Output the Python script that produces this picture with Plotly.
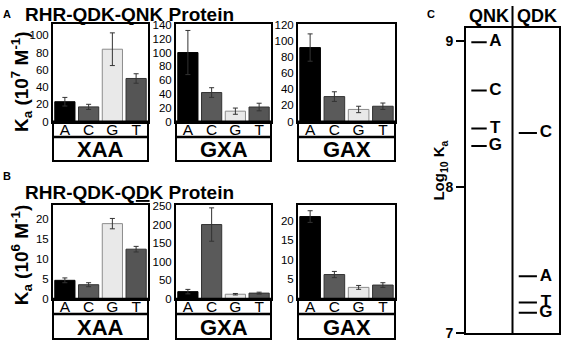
import plotly.graph_objects as go

W, H = 562, 350
FONT = "Liberation Sans, Arial, Helvetica, sans-serif"

# ---------------- data ----------------
bases = ["A", "C", "G", "T"]
site_labels = ["XAA", "GXA", "GAX"]

# Panel A: RHR-QDK-QNK protein, Ka (10^7 M^-1)
qnk_xaa = [23, 17, 84, 50]
qnk_xaa_err = [5, 3, 19, 5.5]
qnk_gxa = [100, 42, 15, 21]
qnk_gxa_err = [32, 7, 4.5, 5.5]
qnk_gax = [92, 31, 15, 19]
qnk_gax_err = [17, 6, 4, 4]

# Panel B: RHR-QDK-QDK protein, Ka (10^6 M^-1)
qdk_xaa = [4.6, 3.5, 18.8, 12.4]
qdk_xaa_err = [0.6, 0.5, 1.3, 0.7]
qdk_gxa = [19, 200, 12, 15]
qdk_gxa_err = [6, 45, 2, 2.5]
qdk_gax = [21.1, 6.2, 2.9, 3.5]
qdk_gax_err = [1.5, 0.8, 0.5, 0.6]

ticks_a = [[0, 20, 40, 60, 80, 100],
           [0, 20, 40, 60, 80, 100, 120, 140],
           [0, 20, 40, 60, 80, 100, 120]]
ticks_b = [[0, 5, 10, 15, 20],
           [0, 50, 100, 150, 200, 250],
           [0, 5, 10, 15, 20]]
ymax_a = [113, 141, 121]
ymax_b = [23.4, 252, 24]

# Panel C: log10 Ka
c_columns = ["QNK", "QDK"]
qnk_log_bases = ["A", "C", "T", "G"]
qnk_log_ka = [8.99, 8.66, 8.40, 8.28]
qdk_log_bases = ["C", "A", "T", "G"]
qdk_log_ka = [8.37, 7.39, 7.21, 7.14]
log_ticks = [7, 8, 9]

# ---------------- styles / geometry ----------------
bar_fill = ["#000000", "#5a5a5a", "#e9e9e9", "#555555"]
bar_edge = ["#000000", "#333333", "#8c8c8c", "#333333"]

cols_px = [(53, 148), (176, 271), (298, 395)]
rows_px = [dict(top=20, axis=121, row=137, bottom=162),
           dict(top=208, axis=305, row=321, bottom=347)]


def px(x):
    return x / W


def py(y):
    return 1 - y / H


fig = go.Figure()
layout = dict(width=W, height=H, margin=dict(l=0, r=0, t=0, b=0),
              paper_bgcolor="white", plot_bgcolor="white", showlegend=False,
              bargap=0.15, font=dict(family=FONT, color="black"))
shapes = []
annotations = []

panel_data = [
    [(qnk_xaa, qnk_xaa_err), (qnk_gxa, qnk_gxa_err), (qnk_gax, qnk_gax_err)],
    [(qdk_xaa, qdk_xaa_err), (qdk_gxa, qdk_gxa_err), (qdk_gax, qdk_gax_err)],
]
panel_ticks = [ticks_a, ticks_b]
panel_ymax = [ymax_a, ymax_b]

idx = 0
for r, row in enumerate(rows_px):
    for c, (x0, x1) in enumerate(cols_px):
        idx += 1
        vals, errs = panel_data[r][c]
        fig.add_trace(go.Bar(
            x=bases, y=vals, xaxis=f"x{idx}", yaxis=f"y{idx}",
            marker=dict(color=bar_fill, line=dict(color=bar_edge, width=1)),
            error_y=dict(type="data", array=errs, color="#333333",
                         thickness=1, width=2.5),
            hoverinfo="skip"))
        layout[f"xaxis{idx}"] = dict(
            domain=[px(x0), px(x1)], anchor=f"y{idx}", type="category",
            range=[-0.5, 3.5], showline=True, mirror=True, linecolor="black",
            linewidth=2, ticks="", showgrid=False, zeroline=False,
            ticklabelstandoff=-7,
            tickfont=dict(size=15.5, family=FONT, color="black"))
        layout[f"yaxis{idx}"] = dict(
            domain=[py(row["axis"]), py(row["top"])], anchor=f"x{idx}",
            range=[0, panel_ymax[r][c]], tickvals=panel_ticks[r][c],
            showline=True, mirror=True, linecolor="black", linewidth=2,
            ticks="", showgrid=False, zeroline=False,
            tickfont=dict(size=11.5, family=FONT, color="black"))
        # letter row + site label box
        shapes.append(dict(type="rect", xref="paper", yref="paper",
                           x0=px(x0), x1=px(x1), y0=py(row["bottom"]),
                           y1=py(row["axis"]),
                           line=dict(color="black", width=2)))
        shapes.append(dict(type="line", xref="paper", yref="paper",
                           x0=px(x0), x1=px(x1), y0=py(row["row"]),
                           y1=py(row["row"]),
                           line=dict(color="black", width=2.5)))
        annotations.append(dict(
            text=f"<b>{site_labels[c]}</b>", xref="paper", yref="paper",
            x=px((x0 + x1) / 2), y=py((row["row"] + row["bottom"]) / 2 + 1),
            xanchor="center", yanchor="middle", showarrow=False,
            font=dict(size=22, family=FONT, color="black")))

# panel titles and letters
extra = [
    dict(text="<b>A</b>", x=px(7), y=py(9), font=dict(size=11)),
    dict(text="<b>B</b>", x=px(7), y=py(178), font=dict(size=11)),
    dict(text="<b>C</b>", x=px(431), y=py(9), font=dict(size=11)),
    dict(text="<b>RHR-QDK-Q<u>N</u>K Protein</b>", x=px(129), y=py(10),
         font=dict(size=19)),
    dict(text="<b>RHR-QDK-Q<u>D</u>K Protein</b>", x=px(129), y=py(195),
         font=dict(size=19)),
    dict(text="<b>K<sub>a</sub> (10<sup>7</sup> M<sup>-1</sup>)</b>",
         x=px(21), y=py(80), textangle=-90, font=dict(size=19)),
    dict(text="<b>K<sub>a</sub> (10<sup>6</sup> M<sup>-1</sup>)</b>",
         x=px(21), y=py(260), textangle=-90, font=dict(size=19)),
    dict(text=f"<b>{c_columns[0]}</b>", x=px(489), y=py(11),
         font=dict(size=18)),
    dict(text=f"<b>{c_columns[1]}</b>", x=px(537), y=py(11),
         font=dict(size=18)),
    dict(text="<b>Log<sub>10</sub> K<sub>a</sub></b>", x=px(440), y=py(172),
         textangle=-90, font=dict(size=15)),
]
for a in extra:
    a.update(xref="paper", yref="paper", showarrow=False,
             xanchor="center", yanchor="middle")
    a["font"].update(family=FONT, color="black")
annotations += extra

# ---------------- panel C ----------------
cx0, cx1, ctop, cbot = 466, 559, 24, 341
layout["xaxis7"] = dict(domain=[px(cx0), px(cx1)], anchor="y7",
                        range=[0, 2], showline=True, mirror=True,
                        linecolor="black", linewidth=2, showticklabels=False,
                        ticks="", showgrid=False, zeroline=False)
layout["yaxis7"] = dict(domain=[py(cbot), py(ctop)], anchor="x7",
                        range=[7, 9.086], tickvals=log_ticks,
                        showline=True, mirror=True, linecolor="black",
                        linewidth=2, ticks="outside", ticklen=8, tickwidth=1.5,
                        tickcolor="black", showgrid=False, zeroline=False,
                        tickfont=dict(size=14, family=FONT, color="black",
                                      weight="bold"))
shapes.append(dict(type="line", xref="x7", yref="paper", x0=1, x1=1,
                   y0=py(cbot), y1=py(1), line=dict(color="black", width=2)))

dash_off = [0.28, 0.33]
text_off = [0.63, 0.72]
dash_size = [11, 13]
for k, (labels, vals) in enumerate([(qnk_log_bases, qnk_log_ka),
                                    (qdk_log_bases, qdk_log_ka)]):
    fig.add_trace(go.Scatter(
        x=[k + dash_off[k]] * len(vals), y=vals, xaxis="x7", yaxis="y7",
        mode="markers", hoverinfo="skip",
        marker=dict(symbol="line-ew", size=dash_size[k],
                    line=dict(color="black", width=2))))
    fig.add_trace(go.Scatter(
        x=[k + text_off[k]] * len(vals), y=vals, xaxis="x7", yaxis="y7",
        mode="text", text=[f"<b>{b}</b>" for b in labels],
        textposition="middle center", hoverinfo="skip",
        textfont=dict(size=17, family=FONT, color="black")))

layout["shapes"] = shapes
layout["annotations"] = annotations
fig.update_layout(**layout)
fig.write_html("out.html", config={"displayModeBar": False},
               post_script="document.body.style.margin='0';"
                           "document.body.style.overflow='hidden';")
